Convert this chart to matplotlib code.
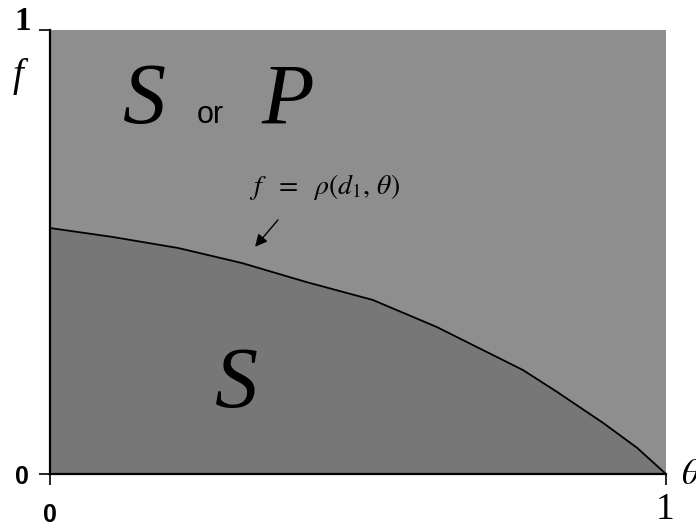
"""
Region diagram: f against theta, split by the curve f = rho(d1, theta).
"""
import matplotlib
matplotlib.use("Agg")
from matplotlib import pyplot as plt

# curve
theta_vals = [0.0, 0.101, 0.208, 0.312, 0.417, 0.524, 0.628, 0.703, 0.768,
              0.823, 0.898, 0.953, 1.0]
f_vals = [0.554, 0.534, 0.509, 0.475, 0.432, 0.392, 0.331, 0.279, 0.234,
          0.185, 0.115, 0.059, 0.0]

region_labels = ["S", "or", "P", "S"]
curve_label = r"$f\ \ =\ \ \rho(d_1,\,\theta)$"


def plot_regions():
    plt.rcParams["mathtext.fontset"] = "stix"
    fig = plt.figure(figsize=(6.96, 5.29), dpi=100)
    ax = fig.add_axes([50 / 696, 55 / 529, 616 / 696, 444 / 529])
    ax.set_facecolor("#8e8e8e")
    ax.fill_between(theta_vals, 0, f_vals, color="#777777", lw=0)
    ax.plot(theta_vals, f_vals, color="black", lw=1.3)
    ax.set_xlim(0, 1)
    ax.set_ylim(0, 1)

    for side in ["top", "right"]:
        ax.spines[side].set_visible(False)
    for side in ["left", "bottom"]:
        ax.spines[side].set_linewidth(1.6)
    ax.set_xticks([0, 1])
    ax.set_yticks([0, 1])
    ax.set_xticklabels([])
    ax.set_yticklabels([])
    ax.tick_params(length=8, width=1.2, color="black")

    serif = "Liberation Serif"
    ax.text(-0.045, 1.02, "1", transform=ax.transAxes, ha="center", va="center",
            fontsize=24, fontweight="bold", family=serif)
    ax.text(-0.052, 0.895, "f", transform=ax.transAxes, ha="center", va="center",
            fontsize=28, style="italic", family=serif)
    ax.text(-0.045, -0.007, "0", transform=ax.transAxes, ha="center", va="center",
            fontsize=18, fontweight="bold", family="Liberation Sans")
    ax.text(0.0, -0.092, "0", transform=ax.transAxes, ha="center", va="center",
            fontsize=18, fontweight="bold", family="Liberation Sans")
    ax.text(0.998, -0.08, "1", transform=ax.transAxes, ha="center", va="center",
            fontsize=27, family=serif)
    ax.text(1.04, 0.0, r"$\theta$", transform=ax.transAxes, ha="center", va="center",
            fontsize=26)

    # region labels
    ax.text(0.153, 0.79, region_labels[0], ha="center", va="baseline",
            fontsize=62, style="italic", family=serif)
    ax.text(0.26, 0.79, region_labels[1], ha="center", va="baseline",
            fontsize=22, family="Liberation Sans")
    ax.text(0.386, 0.79, region_labels[2], ha="center", va="baseline",
            fontsize=62, style="italic", family=serif)
    ax.text(0.303, 0.15, region_labels[3], ha="center", va="baseline",
            fontsize=62, style="italic", family=serif)

    ax.text(0.446, 0.646, curve_label, ha="center", va="center", fontsize=20)
    ax.annotate("", xy=(0.330, 0.507), xytext=(0.373, 0.577),
                arrowprops=dict(arrowstyle="-|>", color="black", lw=1.0,
                                mutation_scale=18))

    fig.savefig("out.png", dpi=100)


if __name__ == "__main__":
    plot_regions()
